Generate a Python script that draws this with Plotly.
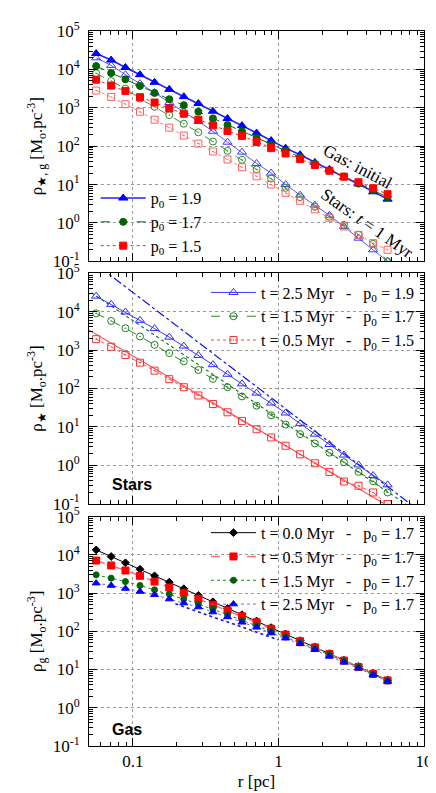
import plotly.graph_objects as go

# radial bins (pc)
radius_pc = [0.056, 0.071, 0.089, 0.112, 0.141, 0.178, 0.224, 0.282, 0.355, 0.447, 0.562,
             0.708, 0.891, 1.12, 1.41, 1.78, 2.24, 2.82, 3.55, 4.47, 5.62]

# panel 1: initial gas profiles and stars at t = 1 Myr
gas_init_p19 = [25900, 17500, 11200, 7280, 4610, 3020, 1950, 1290, 813, 525, 343,
                221, 140, 88.9, 59.7, 37.8, 24.9, 15.8, 10.4, 6.47, 4.18]
gas_init_p17 = [12200, 8040, 5510, 3710, 2440, 1670, 1170, 789, 530, 356, 244,
                164, 110, 75.9, 52.0, 34.9, 23.5, 16.1, 10.6, 7.14, 4.71]
gas_init_p15 = [5410, 3780, 2750, 1890, 1370, 962, 700, 490, 349, 249, 185,
                129, 88.9, 64.7, 46.1, 32.3, 23.0, 16.1, 11.5, 8.05, 5.62]
stars_1myr_p19 = [20000, 12700, 7280, 4260, 2490, 1370, 789, 444, 244, 127, 70.0,
                  35.5, 20.0, 10.0, 5.31, 2.92, 1.58, 0.805, 0.402, 0.200, 0.100]
stars_1myr_p17 = [7890, 4990, 3160, 1740, 1060, 646, 385, 230, 132, 75.7, 44.4,
                  24.9, 14.3, 8.20, 4.71, 2.65, 1.46, 0.889, 0.490, 0.286, 0.100]
stars_1myr_p15 = [2810, 1920, 1240, 789, 490, 304, 189, 117, 72.8, 45.2, 28.2,
                  16.4, 10.0, 6.10, 3.78, 2.26, 1.37, 0.813, 0.490, 0.298, 0.200]

# panel 2: stellar profiles
stars_t25_p19 = [25400, 15500, 9800, 5970, 3630, 2170, 1270, 728, 418, 235, 132,
                 75.9, 41.8, 23.0, 12.2, 6.47, 3.49, 1.85, 1.02, 0.541, 0.310]
stars_t15_p17 = [9060, 5740, 3710, 2260, 1370, 837, 509, 304, 178, 108, 62.1,
                 35.6, 20.0, 11.5, 6.47, 3.71, 2.13, 1.20, 0.673, 0.386, 0.196]
stars_t05_p15 = [1930, 1220, 743, 471, 292, 175, 108, 65.9, 39.4, 24.0, 14.3,
                 8.71, 5.31, 3.23, 1.93, 1.13, 0.673, 0.378, 0.292, 0.196, 0.098]
# power-law fits rho = A * r^k (A at r = 1 pc)
fit_amp = [41.0, 16.6, 4.17]
fit_index = [-2.89, -2.55, -2.23]
fit_r = [0.03, 12.0]

# panel 3: gas profiles, p0 = 1.7
gas_t00 = [13500, 9050, 6200, 4200, 2830, 1940, 1300, 869, 594, 398, 272,
           186, 125, 85, 57, 39, 26, 17.5, 12.0, 7.9, 5.3]
gas_t05 = [7100, 5270, 3900, 2830, 2000, 1400, 1020, 711, 497, 353, 246,
           172, 117, 82, 55, 38, 25.6, 17.2, 11.7, 7.7, 5.2]
gas_t15 = [3000, 2460, 2000, 1580, 1220, 941, 697, 516, 383, 272, 194,
           141, 100, 71, 50, 35, 24.6, 16.5, 11.5, 7.4, 5.0]
gas_t25 = [1820, 1580, 1320, 1100, 905, 697, 548, 431, 319, 237, 172,
           127, 90, 66, 47, 33, 22, 15.5, 10.8, 7.3, 4.9]
guide_amp = 60.0
guide_index = -1.33
guide_r = [0.196, 1.0]

y_ticks = [0.1, 1, 10, 100, 1000, 10000, 100000]
y_ticktext = ["10<sup>-1</sup>", "10<sup>0</sup>", "10<sup>1</sup>", "10<sup>2</sup>",
              "10<sup>3</sup>", "10<sup>4</sup>", "10<sup>5</sup>"]
x_ticks = [0.1, 1, 10]
x_ticktext = ["0.1", "1", "10"]

SERIF = "Liberation Serif"
SANS = "Liberation Sans"

fig = go.Figure()


def profile(y, panel, name, line_color, dash, symbol, marker_color, size=7,
            width=1.0, legend=None, showlegend=True):
    fig.add_trace(go.Scatter(
        x=radius_pc, y=y, mode="lines+markers", name=name,
        xaxis="x" if panel == 1 else f"x{panel}",
        yaxis="y" if panel == 1 else f"y{panel}",
        line=dict(color=line_color, dash=dash, width=width),
        marker=dict(symbol=symbol, size=size, color=marker_color,
                    line=dict(color=marker_color, width=1)),
        legend=legend, showlegend=showlegend,
    ))


def powerlaw(amp, index, rr, panel, color, dash, width=1.0):
    fig.add_trace(go.Scatter(
        x=rr, y=[amp * r ** index for r in rr], mode="lines",
        xaxis=f"x{panel}", yaxis=f"y{panel}",
        line=dict(color=color, dash=dash, width=width),
        showlegend=False, hoverinfo="skip",
    ))


p0 = "p<sub>0</sub>"
sep = "\u00a0\u00a0\u00a0-\u00a0\u00a0\u00a0"

# panel 1
profile(stars_1myr_p19, 1, "", "#5a5aff", "solid", "triangle-up-open", "#3c3cff", 8, showlegend=False)
profile(stars_1myr_p17, 1, "", "#3a9a3a", "dash", "circle-open-dot", "#2e8b2e", 7, showlegend=False)
profile(stars_1myr_p15, 1, "", "#ff7a7a", "dot", "square-open-dot", "#ff6060", 7, showlegend=False)
profile(gas_init_p19, 1, f"{p0} = 1.9", "#2020ff", "solid", "triangle-up", "#0000ff", 8, 1.6, "legend")
profile(gas_init_p17, 1, f"{p0} = 1.7", "#0a6a0a", "dash", "circle", "#006400", 7, 1.0, "legend")
profile(gas_init_p15, 1, f"{p0} = 1.5", "#ff2020", "dot", "square", "#ff0000", 7, 1.0, "legend")

# panel 2
for amp, idx, col, dsh in zip(fit_amp, fit_index,
                              ["#1010ee", "#1a7a1a", "#ff5555"],
                              ["dashdot", "dot", "solid"]):
    powerlaw(amp, idx, fit_r, 2, col, dsh, 1.2)
profile(stars_t25_p19, 2, f"t = 2.5 Myr{sep}{p0} = 1.9", "#3a3aff", "solid",
        "triangle-up-open", "#2a2aff", 8, 1.0, "legend2")
profile(stars_t15_p17, 2, f"t = 1.5 Myr{sep}{p0} = 1.7", "#2a8a2a", "dash",
        "circle-open-dot", "#1f7f1f", 7, 1.0, "legend2")
profile(stars_t05_p15, 2, f"t = 0.5 Myr{sep}{p0} = 1.5", "#ff4040", "dot",
        "square-open-dot", "#ff3030", 7, 1.0, "legend2")

# panel 3
powerlaw(guide_amp, guide_index, guide_r, 3, "#1515dd", "dot", 1.6)
profile(gas_t00, 3, f"t = 0.0 Myr{sep}{p0} = 1.7", "#000000", "solid",
        "diamond", "#000000", 6, 1.0, "legend3")
profile(gas_t05, 3, f"t = 0.5 Myr{sep}{p0} = 1.7", "#ff7070", "dash",
        "square", "#ff0000", 7, 1.5, "legend3")
profile(gas_t15, 3, f"t = 1.5 Myr{sep}{p0} = 1.7", "#1a8a1a", "dot",
        "circle", "#006400", 6, 1.0, "legend3")
profile(gas_t25, 3, f"t = 2.5 Myr{sep}{p0} = 1.7", "#6a6aff", "dot",
        "triangle-up", "#0000ff", 7, 1.0, "legend3")

tickfont = dict(family=SERIF, size=17, color="black")
minor = dict(ticks="inside", ticklen=4, tickcolor="black", dtick="D1", showgrid=False)


def xaxis(show_labels, anchor):
    return dict(type="log", range=[-1.301, 1.0], anchor=anchor,
                tickvals=x_ticks, ticktext=x_ticktext, showticklabels=show_labels,
                ticks="inside", ticklen=8, tickcolor="black", minor=minor,
                showline=True, linecolor="black", linewidth=1, mirror="ticks",
                showgrid=True, gridcolor="#9a9a9a", griddash="dot", gridwidth=1,
                zeroline=False, tickfont=tickfont)


def yaxis(domain, title, anchor):
    return dict(type="log", range=[-1, 5], domain=domain, anchor=anchor,
                tickvals=y_ticks, ticktext=y_ticktext,
                ticks="inside", ticklen=8, tickcolor="black", minor=minor,
                showline=True, linecolor="black", linewidth=1, mirror="ticks",
                showgrid=True, gridcolor="#9a9a9a", griddash="dot", gridwidth=1,
                zeroline=False, tickfont=tickfont, ticklabelstandoff=5,
                title=dict(text=title, font=dict(family=SERIF, size=17), standoff=5))


unit = "[M<sub>o</sub>.pc<sup>-3</sup>]"
legend_style = dict(bgcolor="rgba(0,0,0,0)", font=dict(family=SERIF, size=16, color="black"),
                    itemwidth=45, tracegroupgap=0)

fig.update_layout(
    width=436, height=793,
    margin=dict(l=81, r=11, t=18, b=55),
    paper_bgcolor="white", plot_bgcolor="white",
    font=dict(family=SERIF, size=16, color="black"),
    xaxis=xaxis(False, "y"),
    xaxis2=xaxis(False, "y2"),
    xaxis3=dict(xaxis(True, "y3"), title=dict(text="r [pc]", font=dict(family=SERIF, size=17), standoff=4)),
    yaxis=yaxis([0.6778, 1.0], f"ρ<sub>★, g</sub> {unit}", "x"),
    yaxis2=yaxis([0.3389, 0.6611], f"ρ<sub>★</sub> {unit}", "x2"),
    yaxis3=yaxis([0.0, 0.3208], f"ρ<sub>g</sub> {unit}", "x3"),
    legend=dict(legend_style, x=0.02, y=0.79, xanchor="left", yanchor="top"),
    legend2=dict(legend_style, x=0.985, y=0.658, xanchor="right", yanchor="top"),
    legend3=dict(legend_style, x=0.985, y=0.322, xanchor="right", yanchor="top"),
    annotations=[
        dict(text="Stars", xref="x2 domain", yref="y2 domain", x=0.064, y=0.082,
             xanchor="left", yanchor="middle", showarrow=False,
             font=dict(family=SANS, size=16, color="black", weight="bold")),
        dict(text="Gas", xref="x3 domain", yref="y3 domain", x=0.064, y=0.074,
             xanchor="left", yanchor="middle", showarrow=False,
             font=dict(family=SANS, size=16, color="black", weight="bold")),
        dict(text="Gas: initial", xref="x domain", yref="y domain", x=0.80, y=0.41,
             xanchor="center", yanchor="middle",
             textangle=28, showarrow=False, font=dict(family=SERIF, size=17, color="black")),
        dict(text="Stars: <i>t</i> = 1 Myr", xref="x domain", yref="y domain", x=0.83, y=0.164,
             xanchor="center", yanchor="middle",
             textangle=35, showarrow=False, font=dict(family=SERIF, size=17, color="black")),
    ],
)

fig.write_html("out.html")
